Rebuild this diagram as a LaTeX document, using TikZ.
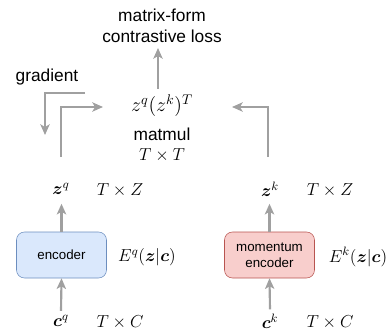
\documentclass[tikz,border=0pt]{standalone}
\usepackage{fix-cm}
\usepackage{amsmath,bm}
\usepackage{fontspec}
\setmainfont{Liberation Sans}
\usetikzlibrary{arrows.meta}
\definecolor{arrgray}{HTML}{A0A0A0}
\definecolor{encblue}{HTML}{DAE8FC}
\definecolor{encblueline}{HTML}{6C8EBF}
\definecolor{encred}{HTML}{F8CECC}
\definecolor{encredline}{HTML}{B85450}
\tikzset{
  arr/.style={-{Stealth[length=8pt,width=7pt,inset=2pt]},arrgray,line width=1.6pt},
  encbox/.style={draw,rounded corners=6pt,minimum width=67.5pt,minimum height=34.5pt,align=center,font=\fontsize{10}{12}\selectfont},
}
\begin{document}
\begin{tikzpicture}[x=0.75pt,y=-0.75pt,every node/.style={font=\fontsize{13}{16}\selectfont,inner sep=0pt}]
  \useasboundingbox (0,0) rectangle (390,330);
  % top: loss and product
  \node[align=center] (loss) at (162,26) {matrix-form\\contrastive loss};
  \node[font=\fontsize{15}{18}\selectfont] (prod) at (162,106) {$z^q(z^k)^T$};
  \node (matmul) at (162,134) {matmul};
  \node (tt) at (162,155) {$T\times T$};
  \node (grad) at (47,77) {gradient};
  % query branch
  \node (zq) at (61,189) {$\bm{z}^q$};
  \node (zqdim) at (120,190) {$T\times Z$};
  \node[encbox,fill=encblue,draw=encblueline] (enc) at (61.5,255) {encoder};
  \node (eq) at (147,257) {$E^q(\bm{z}|\bm{c})$};
  \node (cq) at (61,321) {$\bm{c}^q$};
  \node (cqdim) at (120,322) {$T\times C$};
  % key branch
  \node (zk) at (270,189) {$\bm{z}^k$};
  \node (zkdim) at (330,190) {$T\times Z$};
  \node[encbox,fill=encred,draw=encredline] (menc) at (269.5,255) {momentum\\encoder};
  \node (ek) at (358,257) {$E^k(\bm{z}|\bm{c})$};
  \node (ck) at (270,321) {$\bm{c}^k$};
  \node (ckdim) at (330,322) {$T\times C$};
  % free ends of the bent arrows
  \coordinate (qstart) at (61,157);
  \coordinate (qend) at (103,107);
  \coordinate (kstart) at (268,157);
  \coordinate (kend) at (232,107);
  \coordinate (gstart) at (85,93);
  \coordinate (gend) at (45,135);
  \draw[arr] (prod.north -| 158,0) ++(0,-6) -- (158,48);
  \draw[arr] (qstart) |- (qend);
  \draw[arr] (kstart) |- (kend);
  \draw[arr] (gstart) -| (gend);
  \draw[arr] (enc.north) -- ++(0,-28);
  \draw[arr] (cq.north) ++(0,-4) -- (enc.south);
  \draw[arr] (menc.north) -- ++(0,-28);
  \draw[arr] (ck.north) ++(0,-4) -- (menc.south);
\end{tikzpicture}
\end{document}
